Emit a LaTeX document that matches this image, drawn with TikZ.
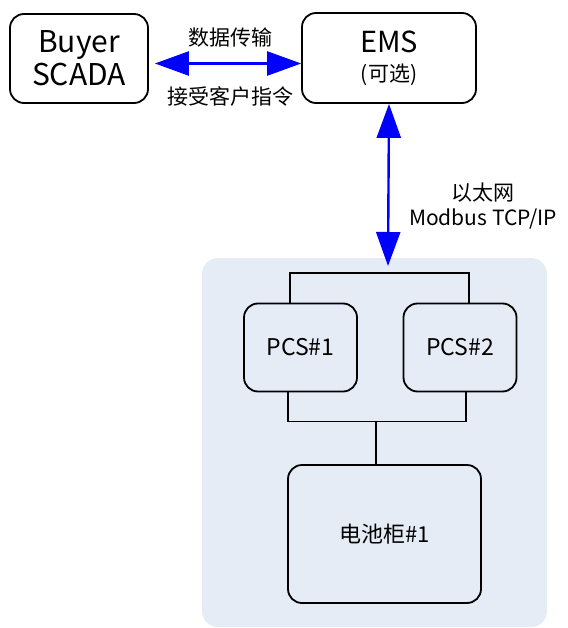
\documentclass[tikz,border=0pt]{standalone}
\usepackage{fontspec}
\setmainfont{Noto Sans CJK SC}
\usepackage{tikz}
\usetikzlibrary{arrows.meta,positioning}
\definecolor{panelblue}{RGB}{230,236,246}
\definecolor{linkblue}{RGB}{0,0,255}

\begin{document}
\begin{tikzpicture}[x=1pt, y=-1pt,
  box/.style={draw, line width=1.8pt, rounded corners=14pt, align=center,
              inner sep=0pt},
  panel/.style={fill=panelblue, rounded corners=16pt, inner sep=0pt},
  link/.style={linkblue, line width=2.4pt,
               {Triangle[length=34pt,width=24pt]}-{Triangle[length=34pt,width=24pt]}},
  bus/.style={line width=1.8pt},
  lbl/.style={font=\fontsize{21}{25}\selectfont, align=center, inner sep=0pt}]
\useasboundingbox (0,0) rectangle (567,628);
\node[panel, minimum width=345pt, minimum height=369pt] (bg) at (374.5,442.5) {};
\node[box, minimum width=138pt, minimum height=89pt, font=\fontsize{30}{33}\selectfont]
  (scada) at (79,58.5) {Buyer\\SCADA};
\node[box, minimum width=174pt, minimum height=90pt] (ems) at (389,58)
  {{\fontsize{29}{33}\selectfont EMS}\\[10pt]{\fontsize{21}{25}\selectfont (可选)}};
\node[box, minimum width=113pt, minimum height=88pt, font=\fontsize{23}{27}\selectfont]
  (pcs1) at (300.5,347.5) {PCS\#1};
\node[box, minimum width=113pt, minimum height=88pt, font=\fontsize{23}{27}\selectfont]
  (pcs2) at (460,347.5) {PCS\#2};
\node[box, minimum width=193pt, minimum height=138pt, font=\fontsize{22}{26}\selectfont]
  (bat) at (384.5,534) {电池柜\#1};
\coordinate (emsin) at (388,266);
% links
\draw[link] (scada.east) ++(6,5) coordinate (scadaout) -- (scadaout -| ems.west);
\node[lbl] (data) at (230,38) {数据传输};
\node[lbl] (cmd)  at (230,96) {接受客户指令};
\draw[link] (ems.south) -- (emsin);
\node[lbl] (eth) at (483,206) {以太网\\Modbus TCP/IP};
% buses
\draw[bus] ([xshift=-10.5pt]pcs1.north) -- ++(0,-30) -| ([xshift=9pt]pcs2.north);
\draw[bus] ([xshift=-12.5pt]pcs1.south) -- ++(0,29) -| ([xshift=6pt]pcs2.south);
\draw[bus] (bat.north -| 376,0) -- (376,421);
\end{tikzpicture}
\end{document}
